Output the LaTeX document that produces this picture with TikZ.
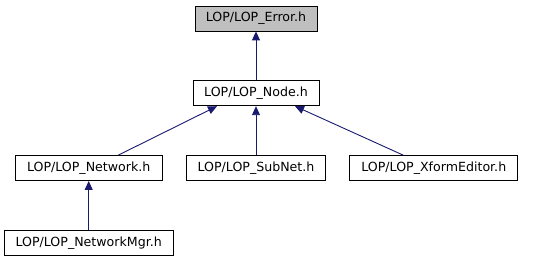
\documentclass[tikz,border=0pt]{standalone}
\usepackage{fontspec}
\setmainfont{DejaVu Sans}
\usepackage{tikz}
\usetikzlibrary{arrows.meta, positioning}
\definecolor{cEdge}{RGB}{25,25,112}
\definecolor{cGrey}{RGB}{191,191,191}
\tikzset{
    header/.style   ={rectangle, minimum height=25pt, inner xsep=4pt, inner ysep=0pt, text centered, draw=black, line width=0.8pt, fill=white},
    incarrow/.style ={-{Triangle[length=9pt, width=8pt]}, draw=cEdge, line width=0.9pt},
}

\begin{document}
\begin{tikzpicture}[font=\fontsize{12.6}{14}\selectfont, node distance=49pt and 23.5pt]
                \useasboundingbox (0,0) rectangle (535pt,-261pt);
                \node[header, fill=cGrey, minimum width=122pt] (err) at (256pt,-18.5pt){LOP/LOP\_Error.h};
                \node[header, below=of err, minimum width=126pt] (lopnode){LOP/LOP\_Node.h};
                \node[header, below=of lopnode, minimum width=139pt] (subnet){LOP/LOP\_SubNet.h};
                \node[header, left=of subnet, minimum width=147pt] (network){LOP/LOP\_Network.h};
                \node[header, right=of subnet, minimum width=168pt] (xform){LOP/LOP\_XformEditor.h};
                \node[header, below=of network, minimum width=169pt] (netmgr){LOP/LOP\_NetworkMgr.h};
                \draw[incarrow] (lopnode) -- (err);
                \draw[incarrow] ([xshift=29.5pt]network.north) -- ([xshift=-39pt]lopnode.south);
                \draw[incarrow] (subnet) -- (lopnode);
                \draw[incarrow] ([xshift=-30.5pt]xform.north) -- ([xshift=39pt]lopnode.south);
                \draw[incarrow] (netmgr) -- (network);
            \end{tikzpicture}
\end{document}
